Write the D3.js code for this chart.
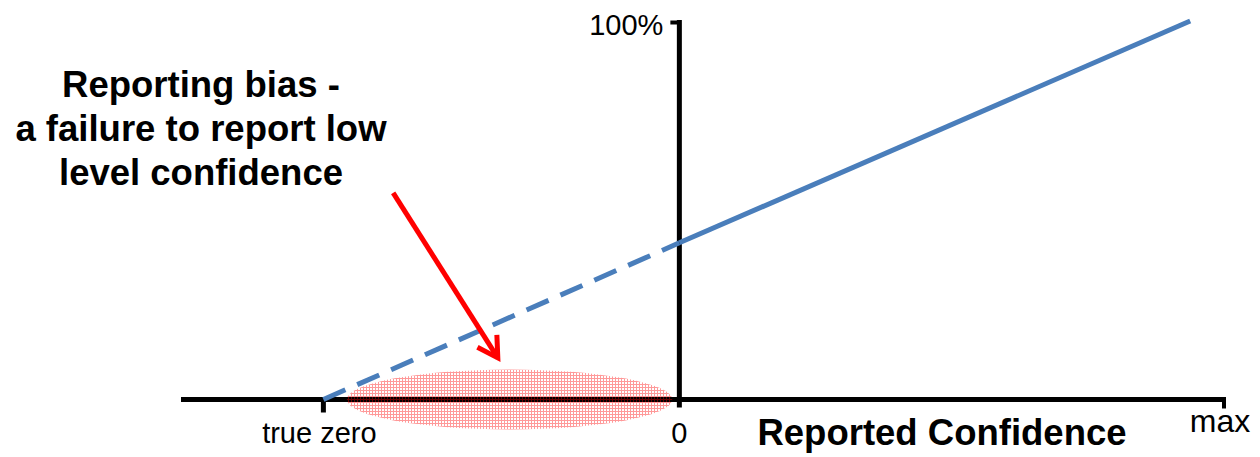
<!DOCTYPE html>
<html>
<head>
<meta charset="utf-8">
<script src="https://cdn.jsdelivr.net/npm/d3@7"></script>
<style>
  html, body { margin: 0; padding: 0; background: #ffffff; }
  svg { display: block; }
  text { font-family: "Liberation Sans", Arial, sans-serif; fill: #000; }
</style>
</head>
<body>
<svg id="chart" width="1260" height="457"></svg>
<script>
// ---- data ----
const xTickLabels = ["true zero", "0", "max"];
const xTickValues = [-1, 0, 1.53];
const yTickLabels = ["100%"];
const yTickValues = [100];
const xAxisTitle = "Reported Confidence";
const dashedX = [-1, 0];
const dashedY = [0, 41.4];
const solidX = [0, 1.435];
const solidY = [41.4, 100];
const annotationLines = ["Reporting bias -", "a failure to report low", "level confidence"];
const arrowFrom = [-0.804, 54.6];
const arrowTo = [-0.51, 11];
const biasRegion = { x0: -0.934, x1: -0.02, yHalf: 7.9 }; // ellipse extent in data units

// ---- scales ----
const W = 1260, H = 457;
const x = d3.scaleLinear().domain([-1.4, 1.53]).range([181, 1224]);
const y = d3.scaleLinear().domain([0, 100]).range([399.5, 21]);

const svg = d3.select("#chart");
const defs = svg.append("defs");
const pat = defs.append("pattern")
  .attr("id", "grid").attr("patternUnits", "userSpaceOnUse")
  .attr("width", 3).attr("height", 3);
pat.append("rect").attr("x", 0).attr("y", 0).attr("width", 3).attr("height", 1)
  .attr("fill", "#ff0000").attr("opacity", 0.4);
pat.append("rect").attr("x", 0).attr("y", 1).attr("width", 1).attr("height", 2)
  .attr("fill", "#ff0000").attr("opacity", 0.4);

const line = d3.line().x(d => x(d[0])).y(d => y(d[1]));

// x axis line
svg.append("line")
  .attr("x1", x(-1.4)).attr("x2", x(xTickValues[2]) + 2)
  .attr("y1", y(0)).attr("y2", y(0))
  .attr("stroke", "#000").attr("stroke-width", 5);

// true zero tick
svg.append("line")
  .attr("x1", x(xTickValues[0])).attr("x2", x(xTickValues[0]))
  .attr("y1", y(0)).attr("y2", y(0) + 13)
  .attr("stroke", "#000").attr("stroke-width", 5);

// max tick
svg.append("line")
  .attr("x1", x(xTickValues[2])).attr("x2", x(xTickValues[2]))
  .attr("y1", y(0)).attr("y2", y(0) + 9)
  .attr("stroke", "#000").attr("stroke-width", 4);

// y axis (at x = 0)
svg.append("line")
  .attr("x1", x(0)).attr("x2", x(0))
  .attr("y1", y(100) - 1).attr("y2", y(0) + 8)
  .attr("stroke", "#000").attr("stroke-width", 5);
// 100% tick
svg.append("line")
  .attr("x1", x(0) - 9).attr("x2", x(0))
  .attr("y1", y(yTickValues[0]) + 1.5).attr("y2", y(yTickValues[0]) + 1.5)
  .attr("stroke", "#000").attr("stroke-width", 4);

// dashed line
svg.append("path")
  .datum(dashedX.map((d, i) => [d, dashedY[i]]))
  .attr("d", line)
  .attr("fill", "none").attr("stroke", "#4a7ebb").attr("stroke-width", 5)
  .attr("stroke-dasharray", "24,13");

// solid line
svg.append("path")
  .datum(solidX.map((d, i) => [d, solidY[i]]))
  .attr("d", line)
  .attr("fill", "none").attr("stroke", "#4a7ebb").attr("stroke-width", 5);

// ellipse
const ex0 = x(biasRegion.x0), ex1 = x(biasRegion.x1);
svg.append("ellipse")
  .attr("cx", (ex0 + ex1) / 2).attr("cy", y(0))
  .attr("rx", (ex1 - ex0) / 2).attr("ry", y(0) - y(biasRegion.yHalf))
  .attr("fill", "url(#grid)");

// arrow
const ax0 = x(arrowFrom[0]), ay0 = y(arrowFrom[1]);
const ax1 = x(arrowTo[0]), ay1 = y(arrowTo[1]);
svg.append("line")
  .attr("x1", ax0).attr("y1", ay0).attr("x2", ax1).attr("y2", ay1)
  .attr("stroke", "#ff0000").attr("stroke-width", 5);
const ang = Math.atan2(ay0 - ay1, ax0 - ax1);
const L = 23, spread = Math.PI / 6;
const p1 = [ax1 + L * Math.cos(ang - spread), ay1 + L * Math.sin(ang - spread)];
const p2 = [ax1 + L * Math.cos(ang + spread), ay1 + L * Math.sin(ang + spread)];
svg.append("path")
  .attr("d", `M${p1[0]},${p1[1]}L${ax1},${ay1}L${p2[0]},${p2[1]}`)
  .attr("fill", "none").attr("stroke", "#ff0000").attr("stroke-width", 5)
  .attr("stroke-linejoin", "miter");

// tick labels
svg.append("text").attr("x", x(xTickValues[0]) - 4).attr("y", 443)
  .attr("text-anchor", "middle").attr("font-size", 29).text(xTickLabels[0]);
svg.append("text").attr("x", x(xTickValues[1])).attr("y", 443)
  .attr("text-anchor", "middle").attr("font-size", 29).text(xTickLabels[1]);
svg.append("text").attr("x", x(xTickValues[2]) - 4).attr("y", 432)
  .attr("text-anchor", "middle").attr("font-size", 32).text(xTickLabels[2]);
svg.append("text").attr("x", x(0) - 16).attr("y", 35)
  .attr("text-anchor", "end").attr("font-size", 29).text(yTickLabels[0]);

// axis title
svg.append("text").attr("x", 942).attr("y", 445)
  .attr("text-anchor", "middle").attr("font-size", 36.5).attr("font-weight", "bold")
  .text(xAxisTitle);

// annotation
svg.append("g").selectAll("text").data(annotationLines).join("text")
  .attr("x", 201).attr("y", (d, i) => 97 + i * 44)
  .attr("text-anchor", "middle").attr("font-size", 36.5).attr("font-weight", "bold")
  .text(d => d);
</script>
</body>
</html>
